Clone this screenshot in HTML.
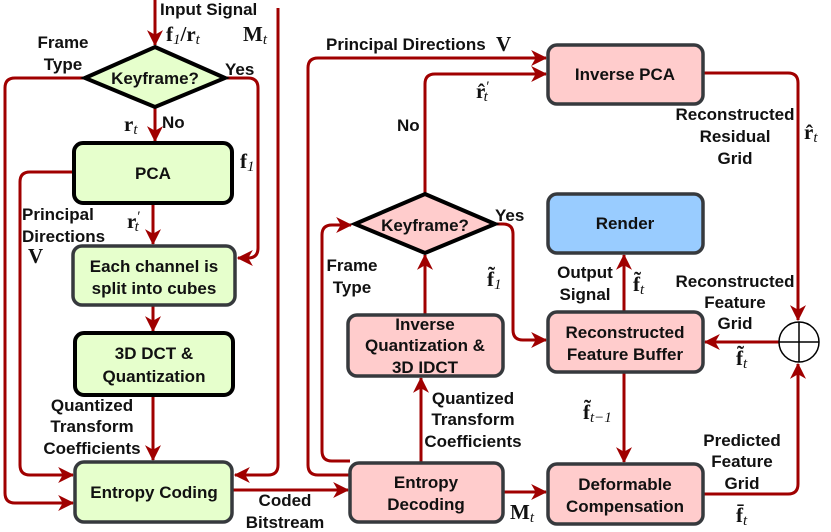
<!DOCTYPE html>
<html><head><meta charset="utf-8"><style>
html,body{margin:0;padding:0;background:#fff}
svg{display:block}
.t{font-family:"Liberation Sans",sans-serif;font-weight:bold;font-size:17px;fill:#111}
.m{font-family:"Liberation Serif",serif;font-weight:bold;font-size:21px;fill:#111}
.s{font-family:"Liberation Serif",serif;font-style:italic;font-weight:normal;font-size:15px}
.l{fill:none;stroke:#a00000;stroke-width:3;stroke-linejoin:round}
</style></head><body>
<svg width="831" height="532" viewBox="0 0 831 532" xmlns="http://www.w3.org/2000/svg">
<defs>
<marker id="a" markerWidth="16" markerHeight="16" refX="13" refY="7" orient="auto" markerUnits="userSpaceOnUse" viewBox="0 0 14 14">
<path d="M0,0 L14,7 L0,14 L4,7 Z" fill="#a00000"/>
</marker>
</defs>
<!-- left connectors -->
<path class="l" d="M155,0 V45" marker-end="url(#a)"/>
<path class="l" d="M278,8 V465 Q278,475 268,475 H235" marker-end="url(#a)"/>
<path class="l" d="M85,78 H15 Q5,78 5,88 V493 Q5,503 15,503 H73" marker-end="url(#a)"/>
<path class="l" d="M225,78 H248 Q258,78 258,88 V248 Q258,258 248,258 H238" marker-end="url(#a)"/>
<path class="l" d="M155,107 V141" marker-end="url(#a)"/>
<path class="l" d="M74,172 H30 Q20,172 20,182 V465 Q20,475 30,475 H73" marker-end="url(#a)"/>
<path class="l" d="M153,203 V244" marker-end="url(#a)"/>
<path class="l" d="M153,305 V331" marker-end="url(#a)"/>
<path class="l" d="M153,395 V460" marker-end="url(#a)"/>
<path class="l" d="M232,490 H348" marker-end="url(#a)"/>
<!-- right connectors -->
<path class="l" d="M503,492 H546" marker-end="url(#a)"/>
<path class="l" d="M421,463 V378" marker-end="url(#a)"/>
<path class="l" d="M425,315 V255" marker-end="url(#a)"/>
<path class="l" d="M350,461 H332 Q322,461 322,451 V235 Q322,225 332,225 H351" marker-end="url(#a)"/>
<path class="l" d="M350,475 H318 Q308,475 308,465 V68 Q308,58 318,58 H546" marker-end="url(#a)"/>
<path class="l" d="M425,193 V84 Q425,74 435,74 H546" marker-end="url(#a)"/>
<path class="l" d="M495,224 H503 Q513,224 513,234 V330 Q513,340 523,340 H546" marker-end="url(#a)"/>
<path class="l" d="M703,73 H788 Q798,73 798,83 V320" marker-end="url(#a)"/>
<path class="l" d="M624,313 V255" marker-end="url(#a)"/>
<path class="l" d="M779,342 H705" marker-end="url(#a)"/>
<path class="l" d="M624,372 V462" marker-end="url(#a)"/>
<path class="l" d="M703,494 H788 Q798,494 798,484 V364" marker-end="url(#a)"/>
<!-- shapes left -->
<polygon points="155,47 225,78 155,107 85,78" fill="#e6ffcc" stroke="#000" stroke-width="4"/>
<rect x="74" y="143" width="158" height="60" rx="9" fill="#e6ffcc" stroke="#000" stroke-width="4"/>
<rect x="73" y="246" width="162" height="59" rx="9" fill="#e6ffcc" stroke="#36393d" stroke-width="3.5"/>
<rect x="75" y="333" width="158" height="62" rx="9" fill="#e6ffcc" stroke="#000" stroke-width="4"/>
<rect x="75" y="462" width="157" height="60" rx="9" fill="#e6ffcc" stroke="#36393d" stroke-width="3.5"/>
<!-- shapes right -->
<rect x="350" y="463" width="153" height="59" rx="9" fill="#ffcccc" stroke="#36393d" stroke-width="3.5"/>
<rect x="348" y="315" width="155" height="61" rx="9" fill="#ffcccc" stroke="#36393d" stroke-width="3.5"/>
<polygon points="425,194 495,224 425,253 355,224" fill="#ffcccc" stroke="#000" stroke-width="4"/>
<rect x="548" y="45" width="155" height="59" rx="9" fill="#ffcccc" stroke="#36393d" stroke-width="3.5"/>
<rect x="548" y="194" width="155" height="59" rx="9" fill="#99ccff" stroke="#36393d" stroke-width="3.5"/>
<rect x="548" y="312" width="155" height="60" rx="9" fill="#ffcccc" stroke="#36393d" stroke-width="3.5"/>
<rect x="548" y="464" width="155" height="60" rx="9" fill="#ffcccc" stroke="#36393d" stroke-width="3.5"/>
<circle cx="799" cy="342" r="20" fill="#fff" stroke="#000" stroke-width="1.5"/>
<path d="M779,342 H819 M799,322 V362" stroke="#000" stroke-width="1.5"/>
<!-- box text -->
<g class="t" text-anchor="middle">
<text x="155" y="84">Keyframe?</text>
<text x="153" y="179">PCA</text>
<text x="154" y="272">Each channel is</text>
<text x="154" y="294">split into cubes</text>
<text x="154" y="359">3D DCT &amp;</text>
<text x="154" y="382">Quantization</text>
<text x="154" y="498">Entropy Coding</text>
<text x="426" y="488">Entropy</text>
<text x="426" y="510">Decoding</text>
<text x="425" y="330">Inverse</text>
<text x="425" y="351">Quantization &amp;</text>
<text x="425" y="373">3D IDCT</text>
<text x="425" y="231">Keyframe?</text>
<text x="625" y="80">Inverse PCA</text>
<text x="625" y="229">Render</text>
<text x="625" y="338">Reconstructed</text>
<text x="625" y="360">Feature Buffer</text>
<text x="625" y="490">Deformable</text>
<text x="625" y="512">Compensation</text>
<text x="63" y="48">Frame</text>
<text x="63" y="70">Type</text>
<text x="92" y="411">Quantized</text>
<text x="92" y="432">Transform</text>
<text x="92" y="454">Coefficients</text>
<text x="285" y="506">Coded</text>
<text x="285" y="528">Bitstream</text>
<text x="352" y="271">Frame</text>
<text x="352" y="293">Type</text>
<text x="473" y="404">Quantized</text>
<text x="473" y="425">Transform</text>
<text x="473" y="447">Coefficients</text>
<text x="735" y="120">Reconstructed</text>
<text x="735" y="142">Residual</text>
<text x="735" y="164">Grid</text>
<text x="585" y="278">Output</text>
<text x="585" y="300">Signal</text>
<text x="735" y="287">Reconstructed</text>
<text x="735" y="308">Feature</text>
<text x="735" y="329">Grid</text>
<text x="742" y="446">Predicted</text>
<text x="742" y="467">Feature</text>
<text x="742" y="489">Grid</text>
</g>
<g class="t">
<text x="160" y="15">Input Signal</text>
<text x="225" y="75">Yes</text>
<text x="162" y="128">No</text>
<text x="22" y="220">Principal</text>
<text x="22" y="242">Directions</text>
<text x="326" y="50">Principal Directions</text>
<text x="397" y="131">No</text>
<text x="495" y="221">Yes</text>
</g>
<g class="m">
<text x="166" y="41">f<tspan class="s" dy="3">1</tspan><tspan dy="-3">/r</tspan><tspan class="s" dy="3">t</tspan></text>
<text x="243" y="41">M<tspan class="s" dy="3">t</tspan></text>
<text x="124" y="131">r<tspan class="s" dy="3">t</tspan></text>
<text x="240" y="168">f<tspan class="s" dy="3">1</tspan></text>
<text x="127" y="228">r<tspan class="s" dy="-7">′</tspan><tspan class="s" dx="-5" dy="10">t</tspan></text>
<text x="28" y="263">V</text>
<text x="496" y="51">V</text>
<text x="476" y="98">r̂<tspan class="s" dy="-7">′</tspan><tspan class="s" dx="-5" dy="10">t</tspan></text>
<text x="487" y="286">f̃<tspan class="s" dy="3">1</tspan></text>
<text x="804" y="139">r̂<tspan class="s" dy="3">t</tspan></text>
<text x="633" y="291">f̃<tspan class="s" dy="3">t</tspan></text>
<text x="736" y="365">f̃<tspan class="s" dy="3">t</tspan></text>
<text x="583" y="419">f̃<tspan class="s" dy="3">t−1</tspan></text>
<text x="736" y="522">f̄<tspan class="s" dy="3">t</tspan></text>
<text x="510" y="519">M<tspan class="s" dy="3">t</tspan></text>
</g>
</svg>
</body></html>
